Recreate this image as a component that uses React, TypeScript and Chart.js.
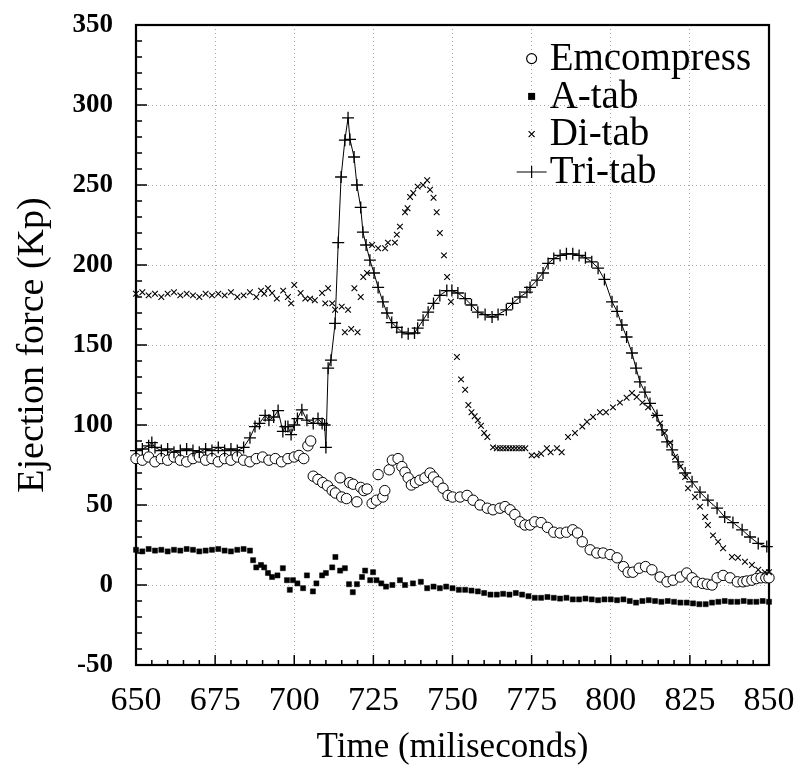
import React, { useEffect, useRef } from 'react';
import { Chart, registerables } from 'chart.js';

Chart.register(...registerables);

const FONT = '"Liberation Serif", "Times New Roman", serif';

const seriesNames = ['Emcompress', 'A-tab', 'Di-tab', 'Tri-tab'];
const xTickValues = [650, 675, 700, 725, 750, 775, 800, 825, 850];
const yTickValues = [-50, 0, 50, 100, 150, 200, 250, 300, 350];
const xTitle = 'Time (miliseconds)';
const yTitle = 'Ejection force (Kp)';

// [time (ms), force (Kp)]
const emcompressData = [
  [650, 79], [652, 78], [654, 80], [656, 77], [658, 79], [660, 78], [662, 80], [664, 78], [666, 77], [668, 79],
  [670, 80], [672, 78], [674, 79], [676, 77], [678, 79], [680, 78], [682, 80], [684, 78], [686, 77], [688, 79],
  [690, 80], [692, 78], [694, 79], [696, 77], [698, 79], [700, 80], [701.5, 81], [703, 79], [704.3, 87], [705.2, 90],
  [706, 68], [707.5, 66], [709, 64], [710.5, 62], [712, 59], [713, 57.5], [714.5, 67], [715, 55], [716.5, 54], [717.5, 64],
  [718.6, 63], [719.8, 52], [721, 61], [722, 59], [723, 60], [724.6, 51], [726, 53], [726.5, 69], [728, 55], [728.6, 59],
  [730, 72], [731, 78], [732.8, 79], [734, 74], [735, 70.5], [736, 67], [737, 62.5], [738.3, 64], [739.7, 65.5], [741.3, 67],
  [742.9, 70], [744, 67.5], [745.4, 64.5], [747, 60.5], [748.6, 56], [750, 55], [752.4, 55], [754.6, 56], [756.5, 53], [758.7, 50],
  [761, 48], [762.8, 47], [765, 48], [766.6, 49], [768.2, 47], [769.7, 44], [771.3, 39.5], [772.9, 37.5], [774.5, 37.5], [776, 39.5],
  [778, 39], [780, 36], [782, 33], [784, 32.5], [786, 33], [788, 34.5], [789.5, 32.5], [791, 27], [793.5, 22], [795.6, 20],
  [797.6, 20], [799.8, 19], [802, 17], [804, 11.5], [805.5, 8], [807, 8], [809, 10.5], [811, 11.5], [813, 9.5], [815.6, 5],
  [817.8, 2], [819.7, 3], [822, 5], [824, 7.5], [825.7, 4.5], [827, 2], [829, 1], [830.5, 0.5], [832, 0], [833.6, 4.5],
  [835.5, 6], [837.7, 4.5], [840, 2], [841.8, 2], [843, 2.5], [844.6, 3], [846, 4], [847.5, 4.5], [849, 4.5], [850, 4.5],
];

const aTabData = [
  [650, 22], [652, 21], [654, 22.5], [656, 21.5], [658, 22], [660, 21], [662, 22], [664, 21.5], [666, 22.5], [668, 22],
  [670, 21], [672, 21.5], [674, 22], [676, 22.5], [678, 21.5], [680, 21], [682, 22], [684, 22.5], [686, 21.5], [687, 15.5],
  [688, 11], [689.5, 12.5], [690.5, 11], [691.7, 7.5], [693, 5], [694.7, 6], [696.4, 10.5], [697.7, 3], [698.6, -3], [699.6, 3],
  [701, 1], [702.8, -2], [704, 6], [705.9, -4], [707, 1], [708.8, 6], [710, 7.5], [712, 11], [713, 17.5], [714.5, 9],
  [716, 10.5], [717.3, 0.5], [718.5, -4.5], [719.8, 0.5], [721.4, 5], [722.4, 9], [724, 3], [724.9, 8], [726, 3], [727.5, 1],
  [729, -1], [731, 0], [733.4, 3], [735, 0], [737.5, 1], [740, 2], [742, -2], [744, -1], [746, -2], [748, -1],
  [750, -2], [752, -3], [754, -3], [756, -3.5], [758, -4], [760, -5], [762, -6], [764, -6], [766, -5.5], [768, -6],
  [770, -5], [772, -6], [774, -7], [776, -8], [778, -8], [780, -7.5], [782, -8], [784, -8.5], [786, -8], [788, -9],
  [790, -9], [792, -8.5], [794, -9], [796, -9.5], [798, -9], [800, -9], [802, -9.5], [804, -9], [806, -10], [808, -11],
  [810, -10], [812, -9.5], [814, -10], [816, -10.5], [818, -10], [820, -10.5], [822, -11], [824, -11], [826, -11.5], [828, -12],
  [830, -12], [832, -11], [834, -10.5], [836, -10], [838, -10.5], [840, -10.5], [842, -10], [844, -10.5], [846, -10.5], [848, -10],
  [850, -10.5],
];

const diTabData = [
  [650, 182], [652, 183], [654, 181], [656, 182], [658, 180], [660, 182], [662, 183], [664, 181], [666, 182], [668, 181],
  [670, 180], [672, 182], [674, 181], [676, 182], [678, 181], [680, 183], [682, 180], [684, 181], [686, 183], [688, 180],
  [689.5, 184], [690.5, 182], [691.7, 185.5], [693, 182.5], [694.5, 179], [696.5, 184], [698, 180], [699, 176], [700, 187.5], [702, 182.5],
  [703.5, 179], [705, 179], [706.5, 178], [708.8, 182.5], [709.8, 176], [710.7, 185.5], [712, 176], [712.9, 172], [715, 174], [716, 158],
  [717, 172], [718, 160], [719, 185.5], [720, 158], [721, 180], [721.8, 192.5], [723, 195], [724.6, 212.5], [726.5, 210.5], [728.7, 210.5],
  [729.6, 214], [731.8, 214], [732.4, 219], [733.4, 224], [735, 233], [735.8, 235.5], [736.6, 242.5], [737.6, 245], [739, 249], [740.7, 250],
  [742, 253], [742.9, 247], [744, 242], [745, 233], [746, 220], [747.3, 206], [748.3, 192.5], [749.5, 177], [751.4, 142.5], [752.7, 128.5],
  [754, 122], [755, 112.5], [756, 108], [757, 105.5], [758, 103], [759, 99.5], [760, 95], [761, 92.5], [762.8, 86], [764, 85.5],
  [765, 85.5], [766, 85.5], [767, 85.5], [768, 85.5], [769, 85.5], [770, 85.5], [771, 85.5], [772, 85.5], [773, 85.5], [775, 81],
  [776.6, 81], [778, 82], [779.8, 85.5], [781, 83], [783, 85.5], [784.5, 83], [786.5, 92.5], [788.7, 95], [791, 99], [792.5, 102],
  [794.4, 105], [796.6, 108], [798.5, 108], [800.7, 111], [802.9, 114], [805, 117], [806.7, 120], [808.2, 117.5], [810, 114], [811.8, 111],
  [814, 106], [815.6, 101], [817, 95], [818.8, 89], [820.3, 80], [822, 74], [823.5, 67.5], [824.4, 60.5], [826.6, 55], [828.2, 49],
  [829.8, 42.5], [830.7, 37.5], [832.3, 31], [833.9, 27], [835.5, 23], [838.3, 17.5], [840.2, 17], [842.4, 14.5], [844.6, 12.5], [846.6, 9.5],
  [848.7, 8], [850, 8],
];

const triTabData = [
  [650, 84], [652, 85], [654, 87], [655, 89], [656, 86], [658, 84], [660, 85], [662, 83], [664, 84], [666, 85],
  [668, 84], [670, 83], [672, 85], [674, 84], [676, 86], [678, 84], [680, 85], [682, 84], [684, 86], [686, 92],
  [687.6, 99], [689, 101], [690.8, 106], [692, 103], [693.5, 105], [694.9, 109], [696.4, 96], [697.2, 99], [698, 99], [699, 94],
  [700, 100], [701, 104], [702.4, 109.5], [704, 103], [706, 101], [707.5, 104], [708.8, 101], [709.6, 100], [710, 86], [710.7, 135.5],
  [711.6, 140.5], [712.9, 163.5], [713.9, 214], [714.8, 255], [716, 278], [717, 292], [717.6, 278.5], [718.9, 267.5], [719.8, 250], [721, 236],
  [721.7, 220.5], [722.7, 212.5], [723.9, 203], [725.2, 195], [726.5, 186], [728, 177], [729.3, 170], [730.8, 164], [732.4, 161], [734, 158],
  [736, 157], [738, 157.5], [739, 160.5], [740.7, 165.5], [742.3, 170.5], [744, 176], [746, 181], [748.2, 184], [749.8, 184], [751.7, 182.5],
  [754, 179], [756, 175], [758, 170.5], [760.3, 169], [762.5, 167.5], [764.4, 169], [767, 172], [769, 176], [771.3, 180], [773.5, 183],
  [774.5, 186], [776.7, 190.5], [778.6, 195], [780.2, 201], [782, 204], [784, 206], [786, 207], [788, 207], [790, 206], [792, 204.5],
  [794, 202], [796, 198], [798, 191], [800.4, 177], [802, 171], [803.5, 162.5], [805, 155], [806.7, 145], [808, 135.5], [809.2, 127],
  [810.8, 120.5], [812.4, 113.5], [814.6, 106], [816.2, 97], [817.8, 89.5], [819.4, 84.5], [821.3, 77], [823.5, 70], [825.7, 64.5], [828.2, 58],
  [830.7, 53], [833.6, 48], [836, 42.5], [838.6, 39], [841.5, 34.5], [844, 30], [846.6, 26], [849.3, 24],
];

const toPoints = (arr: number[][]) => arr.map(([x, y]) => ({ x, y }));

function drawMarker(ctx: CanvasRenderingContext2D, style: string, x: number, y: number) {
  ctx.save();
  ctx.strokeStyle = '#000';
  ctx.fillStyle = '#000';
  ctx.lineWidth = 1.2;
  ctx.beginPath();
  if (style === 'circle') {
    ctx.fillStyle = '#fff';
    ctx.arc(x, y, 5, 0, Math.PI * 2);
    ctx.fill();
    ctx.stroke();
  } else if (style === 'rect') {
    ctx.fillRect(x - 3.5, y - 3.5, 7, 7);
  } else if (style === 'crossRot') {
    ctx.moveTo(x - 3, y - 3); ctx.lineTo(x + 3, y + 3);
    ctx.moveTo(x + 3, y - 3); ctx.lineTo(x - 3, y + 3);
    ctx.stroke();
  } else {
    ctx.moveTo(x - 15, y); ctx.lineTo(x + 15, y);
    ctx.moveTo(x, y - 6); ctx.lineTo(x, y + 6);
    ctx.moveTo(x - 6, y); ctx.lineTo(x + 6, y);
    ctx.stroke();
  }
  ctx.restore();
}

const framePlugin = {
  id: 'frameTicks',
  beforeDatasetsDraw(chart: any) {
    const { ctx, chartArea: a, scales } = chart;
    const xs = scales.x;
    const ys = scales.y;
    ctx.save();
    ctx.strokeStyle = '#000';
    ctx.lineWidth = 1.5;
    ctx.beginPath();
    for (let v = xs.min; v <= xs.max; v += 5) {
      const px = xs.getPixelForValue(v);
      const len = xTickValues.includes(v) ? 10 : 5;
      ctx.moveTo(px, a.bottom);
      ctx.lineTo(px, a.bottom - len);
    }
    for (let v = ys.min; v <= ys.max; v += 10) {
      const py = ys.getPixelForValue(v);
      const len = yTickValues.includes(v) ? 11 : 6;
      ctx.moveTo(a.left, py);
      ctx.lineTo(a.left + len, py);
    }
    ctx.stroke();
    ctx.lineWidth = 2.2;
    ctx.strokeRect(a.left, a.top, a.right - a.left, a.bottom - a.top);
    ctx.restore();
  },
};

const legendPlugin = {
  id: 'insideLegend',
  afterDraw(chart: any) {
    const { ctx, scales } = chart;
    const x = scales.x.getPixelForValue(775);
    ctx.save();
    ctx.font = `39px ${FONT}`;
    ctx.textBaseline = 'middle';
    ctx.textAlign = 'left';
    ctx.fillStyle = '#000';
    chart.data.datasets.forEach((ds: any, i: number) => {
      const y = scales.y.getPixelForValue(329) + i * 37.8;
      drawMarker(ctx, ds.pointStyle, x, y);
      ctx.fillText(ds.label, x + 18, y + 1);
    });
    ctx.restore();
  },
};

export default function App() {
  const canvasRef = useRef<HTMLCanvasElement | null>(null);

  useEffect(() => {
    document.body.style.margin = '0';
    const canvas = canvasRef.current;
    if (!canvas) return;
    const chart = new Chart(canvas, {
      type: 'scatter',
      data: {
        datasets: [
          {
            label: seriesNames[0],
            data: toPoints(emcompressData),
            pointStyle: 'circle',
            pointRadius: 5.2,
            pointBorderWidth: 1,
            pointBorderColor: '#000',
            pointBackgroundColor: '#fff',
            showLine: false,
            order: 3,
            clip: false,
          },
          {
            label: seriesNames[1],
            data: toPoints(aTabData),
            pointStyle: 'rect',
            pointRadius: 3.6,
            pointBorderWidth: 0.5,
            pointBorderColor: '#000',
            pointBackgroundColor: '#000',
            showLine: false,
            order: 2,
            clip: false,
          },
          {
            label: seriesNames[2],
            data: toPoints(diTabData),
            pointStyle: 'crossRot',
            pointRadius: 4,
            pointBorderWidth: 1.1,
            pointBorderColor: '#000',
            pointBackgroundColor: '#000',
            showLine: false,
            order: 1,
            clip: false,
          },
          {
            label: seriesNames[3],
            data: toPoints(triTabData),
            pointStyle: 'cross',
            pointRadius: 6,
            pointBorderWidth: 1.3,
            pointBorderColor: '#000',
            pointBackgroundColor: '#000',
            borderColor: '#000',
            borderWidth: 1,
            showLine: true,
            tension: 0,
            order: 0,
            clip: false,
          },
        ],
      },
      options: {
        animation: false,
        responsive: false,
        devicePixelRatio: 1,
        layout: { padding: { top: 25, right: 27, left: 0, bottom: 0 } },
        plugins: {
          legend: { display: false },
          tooltip: { enabled: false },
        },
        elements: { point: { hoverRadius: 0 } },
        scales: {
          x: {
            type: 'linear',
            min: 650,
            max: 850,
            afterBuildTicks: (scale: any) => {
              scale.ticks = xTickValues.map((value) => ({ value }));
            },
            afterFit: (scale: any) => {
              scale.height = 107;
              scale.paddingLeft = 0;
              scale.paddingRight = 0;
            },
            ticks: {
              font: { family: FONT, size: 34 },
              color: '#000',
              padding: 16,
              maxRotation: 0,
              autoSkip: false,
            },
            grid: {
              color: '#a8a8a8',
              lineWidth: 1,
              drawTicks: false,
            },
            border: { display: false, dash: [1, 3] },
            title: {
              display: true,
              text: xTitle,
              color: '#000',
              font: { family: FONT, size: 35 },
              padding: { top: 0, bottom: 3 },
            },
          },
          y: {
            type: 'linear',
            min: -50,
            max: 350,
            afterBuildTicks: (scale: any) => {
              scale.ticks = yTickValues.map((value) => ({ value }));
            },
            afterFit: (scale: any) => {
              scale.width = 136;
              scale.paddingTop = 0;
              scale.paddingBottom = 0;
            },
            ticks: {
              font: { family: FONT, size: 27, weight: 'bold' },
              color: '#000',
              padding: 23,
              autoSkip: false,
            },
            grid: {
              color: '#a8a8a8',
              lineWidth: 1,
              drawTicks: false,
            },
            border: { display: false, dash: [1, 3] },
            title: {
              display: true,
              text: yTitle,
              color: '#000',
              font: { family: FONT, size: 38 },
              padding: { top: 10, bottom: 0 },
            },
          },
        },
      },
      plugins: [framePlugin, legendPlugin],
    } as any);
    return () => chart.destroy();
  }, []);

  return (
    <div style={{ width: 796, height: 772, background: '#fff' }}>
      <canvas ref={canvasRef} width={796} height={772} />
    </div>
  );
}
